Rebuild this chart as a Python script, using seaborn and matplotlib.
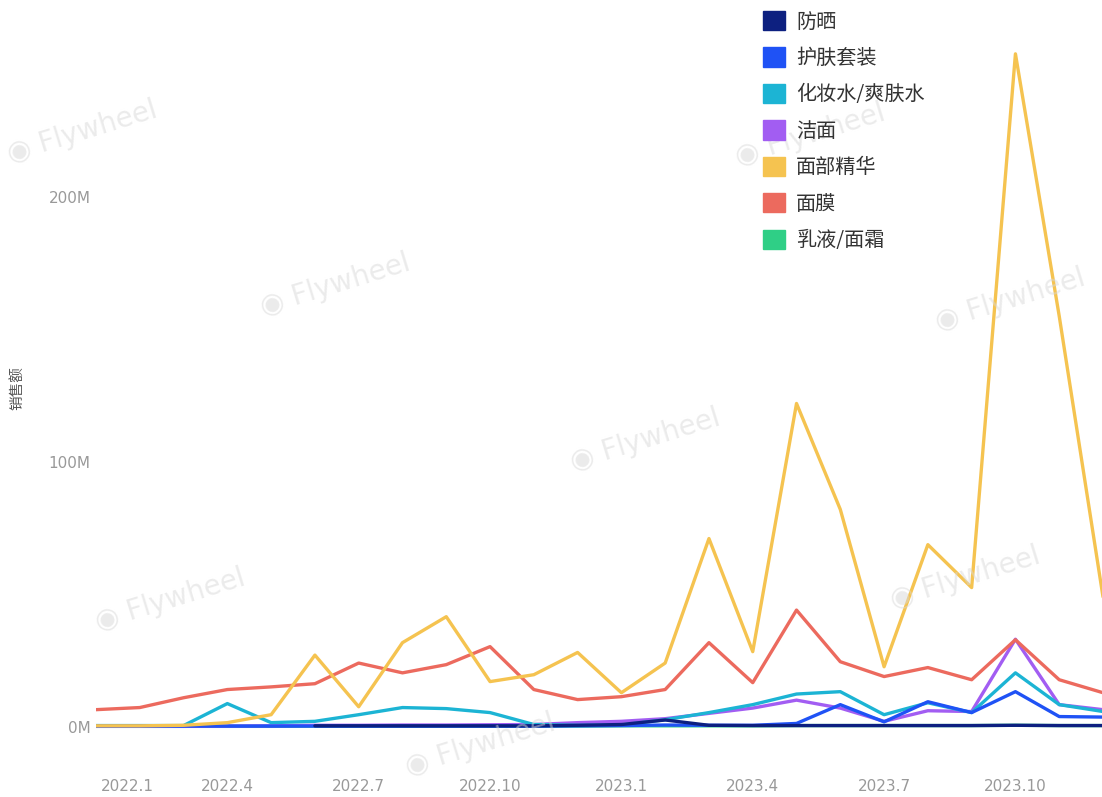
import numpy as np
import pandas as pd
import matplotlib
matplotlib.use("Agg")
import matplotlib.pyplot as plt
from matplotlib.patches import Patch
from matplotlib.ticker import FuncFormatter
from matplotlib.transforms import ScaledTranslation
import seaborn as sns

# Monthly sales (millions), 2022.1 - 2023.12
months = [f"{y}.{m}" for y in (2022, 2023) for m in range(1, 13)]

categories = ["防晒", "护肤套装", "化妆水/爽肤水", "洁面", "面部精华", "面膜", "乳液/面霜"]

sunscreen = [np.nan, np.nan, np.nan, np.nan, np.nan, 0.3, 0.3, 0.3, 0.3, 0.3, 0.3, 0.5,
             0.8, 2.5, 0.5, 0.4, 0.4, 0.4, 0.4, 0.4, 0.4, 0.5, 0.4, 0.4]
skincare_set = [0.2, 0.2, 0.2, 0.2, 0.2, 0.2, 0.2, 0.2, 0.2, 0.2, 0.2, 0.3,
                0.4, 0.6, 0.5, 0.5, 1.2, 8.3, 1.8, 9.4, 5.3, 13.2, 3.8, 3.6]
toner = [0.4, 0.4, 0.4, 8.7, 1.5, 2.0, 4.5, 7.2, 6.8, 5.3, 0.8, 0.5,
         0.6, 2.6, 5.3, 8.3, 12.3, 13.2, 4.5, 9.0, 5.3, 20.3, 8.3, 5.7]
cleanser = [0.1, 0.1, 0.1, 0.2, 0.3, 0.5, 0.5, 0.6, 0.6, 0.7, 0.8, 1.5,
            2.0, 3.0, 5.0, 7.0, 10.0, 7.0, 2.0, 6.0, 5.7, 33.0, 8.3, 6.4]
serum = [0.3, 0.3, 0.5, 1.5, 4.5, 27.0, 7.5, 31.7, 41.5, 17.0, 19.6, 28.0,
         12.8, 24.0, 71.0, 28.3, 122.0, 82.0, 22.6, 68.7, 52.5, 254.0, 155.0, 49.0]
mask = [6.4, 7.2, 10.9, 14.0, 15.0, 16.2, 24.0, 20.3, 23.4, 30.2, 14.0, 10.2,
        11.3, 14.0, 31.7, 16.6, 44.0, 24.5, 18.9, 22.3, 17.7, 32.8, 17.7, 12.8]
lotion = [0.1, 0.1, 0.1, 0.1, 0.1, 0.2, 0.2, 0.2, 0.2, 0.2, 0.2, 0.2,
          0.3, 0.3, 0.3, 0.3, 0.4, 0.4, 0.4, 0.4, 0.4, 0.5, 0.4, 0.4]

series = [sunscreen, skincare_set, toner, cleanser, serum, mask, lotion]
colors = ["#0d2080", "#1f52f5", "#1cb4d4", "#a25df2", "#f5c350", "#ec6a5e", "#2fcf86"]

tick_months = ["2022.1", "2022.4", "2022.7", "2022.10", "2023.1", "2023.4", "2023.7", "2023.10"]

df = pd.DataFrame({
    "idx": np.tile(np.arange(len(months)), len(categories)),
    "category": np.repeat(categories, len(months)),
    "value": np.concatenate([np.asarray(s, dtype=float) for s in series]),
})

sns.set_theme(style="white")
plt.rcParams["font.family"] = ["Noto Sans CJK SC", "DejaVu Sans"]

W, H = 1102, 797
fig = plt.figure(figsize=(W / 100, H / 100), dpi=100)
fig.patch.set_facecolor("white")

# plot area deliberately runs past the top/right of the canvas
x0, x1 = 96, 1103
y_bottom, y_top = 769, -68
ax = fig.add_axes([x0 / W, (H - y_bottom) / H, (x1 - x0) / W, (y_bottom - y_top) / H])
ax.set_facecolor("white")

# faint "Flywheel" watermarks
marks = [(335, 285), (645, 440), (170, 600), (965, 578), (480, 745), (810, 135),
         (82, 132), (1010, 300)]
for mx, my in marks:
    fig.text(mx / W, 1 - my / H, "◉ Flywheel", fontsize=20, color="#d8d8d8", alpha=0.5,
             rotation=17, ha="center", va="center", family=["DejaVu Sans"], zorder=0)

palette = dict(zip(categories, colors))
draw_order = ["乳液/面霜", "洁面", "化妆水/爽肤水", "护肤套装", "防晒", "面膜", "面部精华"]
for z, cat in enumerate(draw_order):
    sub = df[df["category"] == cat].dropna()
    sns.lineplot(data=sub, x="idx", y="value", color=palette[cat], linewidth=2.4,
                 ax=ax, legend=False, zorder=3 + z)

ax.set_xlim(0, len(months) - 1)
ax.set_ylim(-16, 300)
ax.set_yticks([0, 100, 200])
ax.yaxis.set_major_formatter(FuncFormatter(lambda v, p: f"{v:.0f}M"))
ax.set_xticks([months.index(m) for m in tick_months])
ax.set_xticklabels(tick_months)
ax.tick_params(axis="both", length=0, labelsize=11, colors="#999999")
ax.tick_params(axis="y", pad=4)
ax.tick_params(axis="x", pad=7)
for lab in ax.get_xticklabels() + ax.get_yticklabels():
    lab.set_family(["DejaVu Sans"])
first = ax.get_xticklabels()[0]
first.set_horizontalalignment("left")
first.set_transform(first.get_transform() + ScaledTranslation(5 / 100, 0, fig.dpi_scale_trans))
for sp in ax.spines.values():
    sp.set_visible(False)
ax.grid(False)

ax.set_xlabel("")
ax.set_ylabel("销售额", fontsize=10.5, color="#555555")
ax.yaxis.set_label_coords((24 - x0) / (x1 - x0), (y_bottom - 388) / (y_bottom - y_top))

handles = [Patch(facecolor=c, edgecolor=c) for c in colors]
fig.legend(handles, categories, loc="upper left", bbox_to_anchor=(763 / W, 1 - 11 / H),
           frameon=False, fontsize=14.5, handlelength=1.1, handleheight=1.1,
           handletextpad=0.55, labelspacing=0.74, borderpad=0, borderaxespad=0,
           labelcolor="#333333")

fig.savefig("out.png", dpi=100, facecolor="white")
